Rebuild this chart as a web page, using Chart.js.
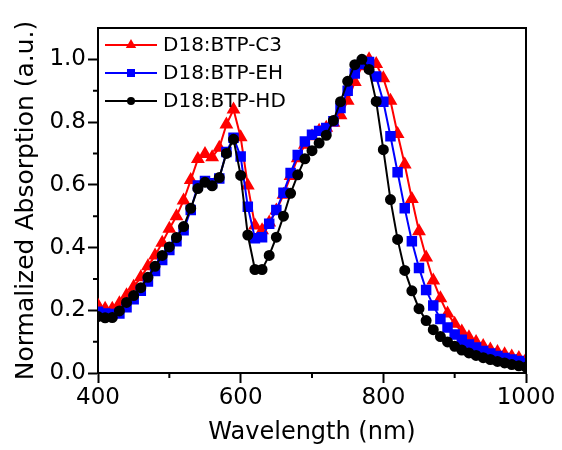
<!DOCTYPE html>
<html>
<head>
    <title>Normalized absorption</title>
    <script src="https://cdn.jsdelivr.net/npm/chart.js@4.4.1/dist/chart.umd.min.js"></script>
    <style>
        body { margin:0; background:#fff; }
        #wrap { width:562px; height:450px; }
    </style>
</head>
<body>
<div id="wrap"><canvas id="myChart" width="562" height="450"></canvas></div>
<script>
// wavelength grid (nm)
const wavelength = [400,410,420,430,440,450,460,470,480,490,
                    500,510,520,530,540,550,560,570,580,590,
                    600,610,620,630,640,650,660,670,680,690,
                    700,710,720,730,740,750,760,770,780,790,
                    800,810,820,830,840,850,860,870,880,890,
                    900,910,920,930,940,950,960,970,980,990,1000];

// D18:BTP-C3
const absC3 = [0.215,0.205,0.205,0.222,0.248,0.275,0.305,0.340,0.375,0.415,
               0.460,0.500,0.550,0.615,0.682,0.698,0.688,0.718,0.792,0.840,
               0.752,0.598,0.470,0.455,0.480,0.518,0.568,0.628,0.685,0.728,
               0.755,0.772,0.782,0.798,0.822,0.868,0.928,0.978,1.000,0.985,
               0.940,0.868,0.762,0.665,0.555,0.452,0.368,0.295,0.238,0.190,
               0.157,0.132,0.114,0.099,0.086,0.075,0.067,0.060,0.053,0.048,0.042];

// D18:BTP-EH
const absEH = [0.195,0.190,0.188,0.190,0.210,0.235,0.262,0.292,0.325,0.360,
               0.392,0.420,0.455,0.520,0.598,0.612,0.605,0.620,0.705,0.750,
               0.690,0.530,0.430,0.433,0.476,0.520,0.575,0.638,0.695,0.738,
               0.760,0.772,0.781,0.803,0.845,0.900,0.955,0.985,0.992,0.945,
               0.865,0.755,0.640,0.525,0.420,0.335,0.265,0.215,0.172,0.145,
               0.123,0.106,0.091,0.081,0.070,0.062,0.054,0.048,0.043,0.038,0.032];

// D18:BTP-HD
const absHD = [0.180,0.176,0.177,0.198,0.225,0.247,0.272,0.305,0.340,0.375,
               0.402,0.432,0.467,0.525,0.588,0.608,0.597,0.623,0.700,0.745,
               0.630,0.440,0.330,0.330,0.375,0.433,0.500,0.573,0.632,0.683,
               0.709,0.733,0.758,0.805,0.865,0.930,0.983,1.000,0.968,0.866,
               0.712,0.553,0.426,0.327,0.262,0.205,0.167,0.138,0.116,0.099,
               0.085,0.073,0.064,0.056,0.049,0.043,0.037,0.032,0.027,0.023,0.019];

const names = ['D18:BTP-C3', 'D18:BTP-EH', 'D18:BTP-HD'];
const xMajor = [400, 600, 800, 1000];
const yMajor = [0.0, 0.2, 0.4, 0.6, 0.8, 1.0];

const FONT = "'DejaVu Sans', sans-serif";

function pts(ys) {
    return wavelength.map(function(w, i) { return {x: w, y: ys[i]}; });
}

// frame on top/right, short minor ticks, legend inside the plot
const extras = {
    id: 'extras',
    afterDraw: function(chart) {
        const ctx = chart.ctx;
        const a = chart.chartArea;
        const sx = chart.scales.x, sy = chart.scales.y;
        ctx.save();
        ctx.strokeStyle = '#000';
        ctx.lineWidth = 2;
        ctx.beginPath();
        ctx.moveTo(a.left, a.top);
        ctx.lineTo(a.right, a.top);
        ctx.lineTo(a.right, a.bottom);
        sx.ticks.forEach(function(t) {
            if (xMajor.indexOf(t.value) < 0) {
                const px = sx.getPixelForValue(t.value);
                ctx.moveTo(px, a.bottom);
                ctx.lineTo(px, a.bottom + 5);
            }
        });
        sy.ticks.forEach(function(t) {
            const k = Math.round(t.value * 10);
            if (k % 2 === 1 && k < 11) {
                const py = sy.getPixelForValue(t.value);
                ctx.moveTo(a.left, py);
                ctx.lineTo(a.left - 5, py);
            }
        });
        ctx.stroke();

        // legend
        chart.data.datasets.forEach(function(ds, i) {
            const y = a.top + 17 + i * 28;
            const x0 = a.left + 7, x1 = a.left + 59, xm = (x0 + x1) / 2;
            ctx.strokeStyle = ds.borderColor;
            ctx.fillStyle = ds.borderColor;
            ctx.lineWidth = 2;
            ctx.beginPath();
            ctx.moveTo(x0, y);
            ctx.lineTo(x1, y);
            ctx.stroke();
            ctx.beginPath();
            if (ds.pointStyle === 'triangle') {
                const r = 6;
                ctx.moveTo(xm, y - r);
                ctx.lineTo(xm + r * 0.866, y + r / 2);
                ctx.lineTo(xm - r * 0.866, y + r / 2);
                ctx.closePath();
            } else if (ds.pointStyle === 'rect') {
                ctx.rect(xm - 4, y - 4, 8, 8);
            } else {
                ctx.arc(xm, y, 4, 0, Math.PI * 2);
            }
            ctx.fill();
            ctx.fillStyle = '#000';
            ctx.font = '20px ' + FONT;
            ctx.textBaseline = 'middle';
            ctx.textAlign = 'left';
            ctx.fillText(ds.label, a.left + 65, y + 1);
        });
        ctx.restore();
    }
};

const ctx = document.getElementById('myChart').getContext('2d');
const myChart = new Chart(ctx, {
    type: 'line',
    data: {
        datasets: [{
            label: names[0],
            data: pts(absC3),
            borderColor: '#ff0000',
            backgroundColor: '#ff0000',
            pointStyle: 'triangle',
            pointRadius: 6,
            borderWidth: 2,
            order: 2
        }, {
            label: names[1],
            data: pts(absEH),
            borderColor: '#0000ff',
            backgroundColor: '#0000ff',
            pointStyle: 'rect',
            pointRadius: 6,
            borderWidth: 2,
            order: 1
        }, {
            label: names[2],
            data: pts(absHD),
            borderColor: '#000000',
            backgroundColor: '#000000',
            pointStyle: 'circle',
            pointRadius: 4.5,
            borderWidth: 2,
            order: 0
        }]
    },
    options: {
        responsive: false,
        animation: false,
        events: [],
        layout: { padding: { top: 28, right: 36, left: 0, bottom: 0 } },
        plugins: { legend: { display: false }, tooltip: { enabled: false } },
        elements: { line: { tension: 0 }, point: { borderWidth: 1 } },
        scales: {
            x: {
                type: 'linear',
                min: 400,
                max: 1000,
                border: { display: true, color: '#000', width: 2 },
                grid: {
                    drawOnChartArea: false,
                    drawTicks: true,
                    tickLength: 10,
                    tickWidth: 2,
                    tickColor: function(c) { return xMajor.indexOf(c.tick.value) >= 0 ? '#000' : 'rgba(0,0,0,0)'; }
                },
                ticks: {
                    stepSize: 100,
                    autoSkip: false,
                    maxRotation: 0,
                    padding: 1,
                    color: '#000',
                    font: { family: FONT, size: 23 },
                    callback: function(v) { return xMajor.indexOf(v) >= 0 ? String(v) : ''; }
                },
                title: {
                    display: true,
                    text: 'Wavelength (nm)',
                    color: '#000',
                    font: { family: FONT, size: 24 },
                    padding: { top: 0, bottom: 3 }
                },
                afterFit: function(s) { s.height = 77; }
            },
            y: {
                min: 0,
                max: 1.1,
                border: { display: true, color: '#000', width: 2 },
                grid: {
                    drawOnChartArea: false,
                    drawTicks: true,
                    tickLength: 10,
                    tickWidth: 2,
                    tickColor: function(c) {
                        const k = Math.round(c.tick.value * 10);
                        return (k % 2 === 0 && k <= 10) ? '#000' : 'rgba(0,0,0,0)';
                    }
                },
                ticks: {
                    stepSize: 0.1,
                    autoSkip: false,
                    padding: 2,
                    color: '#000',
                    font: { family: FONT, size: 23 },
                    callback: function(v) {
                        const k = Math.round(v * 10);
                        return (k % 2 === 0 && k <= 10) ? (k / 10).toFixed(1) : '';
                    }
                },
                title: {
                    display: true,
                    text: 'Normalized Absorption (a.u.)',
                    color: '#000',
                    font: { family: FONT, size: 25 },
                    padding: { top: 11, bottom: 0 }
                },
                afterFit: function(s) { s.width = 98; }
            }
        }
    },
    plugins: [extras]
});
</script>
</body>
</html>
